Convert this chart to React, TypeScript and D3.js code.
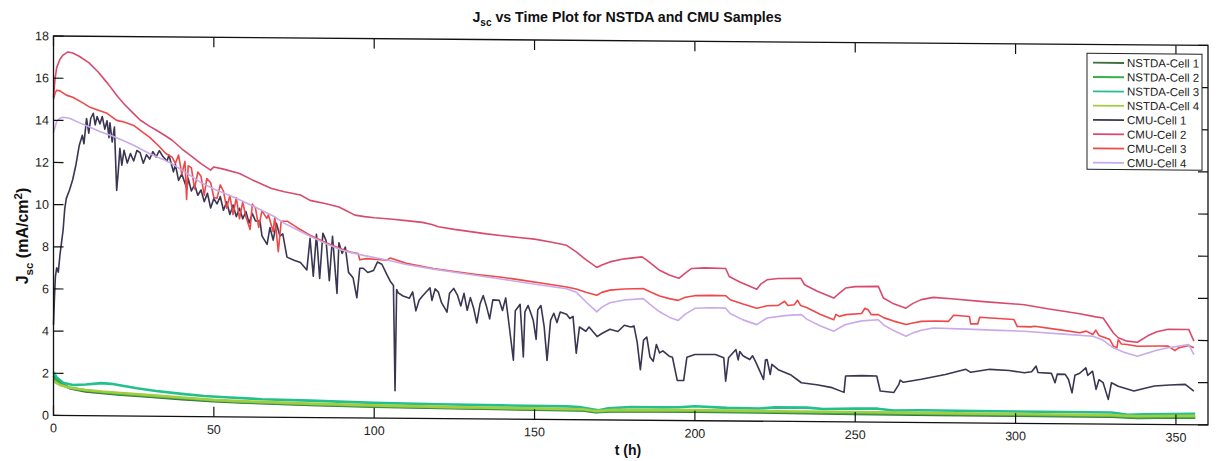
import React from "react";
import * as d3 from "d3";

// ---------- data ----------
const X_TICKS = [0, 50, 100, 150, 200, 250, 300, 350];
const Y_TICKS = [0, 2, 4, 6, 8, 10, 12, 14, 16, 18];

const SERIES_NAMES = [
  "NSTDA-Cell 1", "NSTDA-Cell 2", "NSTDA-Cell 3", "NSTDA-Cell 4",
  "CMU-Cell 1", "CMU-Cell 2", "CMU-Cell 3", "CMU-Cell 4",
];
const SERIES_COLORS = [
  "#3f6f3c", "#36b04e", "#22c08e", "#a3cc3e",
  "#3a3552", "#d84a6e", "#f04848", "#c9aaea",
];

const nstda1 = [[0,1.9],[2,1.55],[5,1.3],[10,1.15],[15,1.08],[20,1.02],[30,0.92],[40,0.82],[50,0.74],[60,0.68],[80,0.6],[100,0.54],[125,0.5],[150,0.46],[165,0.44],[169,0.36],[175,0.42],[200,0.42],[225,0.41],[250,0.38],[275,0.37],[300,0.36],[330,0.35],[338,0.3],[345,0.32],[356,0.33]];
const nstda2 = [[0,1.75],[2,1.5],[5,1.32],[10,1.2],[15,1.12],[20,1.06],[30,0.96],[40,0.86],[50,0.77],[60,0.7],[80,0.62],[100,0.56],[125,0.52],[150,0.48],[165,0.46],[169,0.38],[175,0.44],[200,0.46],[225,0.44],[250,0.42],[275,0.41],[300,0.4],[330,0.38],[338,0.33],[345,0.35],[356,0.36]];
const nstda3 = [[0,2.05],[1,1.8],[3,1.55],[6,1.45],[10,1.48],[15,1.55],[18,1.52],[22,1.42],[26,1.32],[32,1.2],[40,1.07],[47,0.98],[55,0.92],[65,0.85],[80,0.8],[100,0.72],[120,0.68],[140,0.65],[160,0.63],[164,0.6],[168,0.5],[170,0.45],[173,0.55],[180,0.62],[190,0.62],[195,0.63],[200,0.68],[210,0.62],[220,0.6],[225,0.66],[235,0.66],[240,0.6],[250,0.64],[257,0.64],[262,0.56],[270,0.58],[300,0.56],[330,0.55],[335,0.45],[340,0.48],[356,0.52]];
const nstda4 = [[0,1.62],[2,1.45],[5,1.32],[10,1.22],[15,1.15],[20,1.1],[30,1.0],[40,0.9],[50,0.8],[60,0.74],[80,0.66],[100,0.6],[125,0.55],[150,0.52],[165,0.5],[169,0.42],[175,0.48],[200,0.5],[225,0.48],[250,0.47],[275,0.45],[300,0.44],[330,0.42],[338,0.38],[345,0.4],[356,0.42]];

const cmu1 = [[0,4.3],[0.3,5.6],[0.6,6.6],[1,7.0],[1.5,6.8],[2,7.6],[2.5,8.2],[3,8.8],[3.5,9.8],[4,10.3],[5,10.7],[6,11.2],[7,11.9],[8,12.8],[9,13.3],[9.5,12.9],[10.3,14.1],[11,13.4],[11.6,14.1],[12.4,14.35],[13,13.8],[13.6,14.2],[14.5,13.85],[15.2,14.2],[16,13.6],[16.7,14.0],[17.3,13.2],[17.6,13.9],[18.3,13.0],[19,13.7],[19.7,10.7],[20.2,11.6],[20.7,12.7],[21.3,11.9],[22,12.6],[23,12.0],[24,12.45],[25,12.1],[26,12.6],[27,12.5],[28,12.0],[29,12.4],[30,12.2],[31,12.55],[32,12.3],[33,12.6],[34,12.35],[35.4,12.1],[36,12.4],[37.4,11.6],[38,11.95],[39,11.2],[40,11.5],[41.6,10.8],[42,11.3],[43,10.7],[44,11.0],[45,10.5],[46,10.75],[47,10.2],[48,10.6],[49,9.9],[50,10.35],[51,10.1],[52,10.45],[53,9.8],[54,10.2],[55,9.6],[56,10.05],[57,9.5],[58,9.9],[59,9.4],[60,9.75],[61,9.2],[62,9.65],[63,9.3],[64.4,9.3],[65,8.6],[66.6,8.2],[67.5,9.0],[68.5,8.4],[69.5,9.2],[70.6,8.6],[71.5,8.7],[72.8,7.6],[75,7.45],[77,7.35],[79,7.0],[80,8.5],[81,6.7],[82,8.7],[83,6.6],[84,8.75],[85,8.4],[86,6.5],[87,8.6],[88.4,5.9],[89,8.3],[90,7.8],[91,8.1],[92,6.9],[93.4,6.65],[94.6,5.7],[95.5,7.1],[96.6,7.1],[98,6.9],[99.8,7.0],[101,7.4],[102.4,7.3],[104,6.8],[105,6.5],[106,6.3],[106.5,1.3],[107,6.1],[107.5,5.95],[109,5.8],[111,5.7],[112,6.0],[113,5.1],[114,5.6],[115,5.8],[117.4,6.2],[118,5.6],[119,6.15],[120,6.0],[121,5.5],[122.7,5.05],[123.5,5.95],[124.8,6.18],[126,5.85],[127,5.35],[128,5.95],[129,5.15],[130,5.75],[131,5.25],[132,4.55],[133,5.45],[134,5.85],[135,5.35],[136,4.75],[137,5.65],[139,5.63],[140,5.15],[141,5.75],[142,4.55],[143.4,2.8],[144,5.15],[145.5,5.45],[146.5,2.95],[147,5.1],[148,5.4],[149.6,4.7],[150.5,3.8],[151,5.2],[152,5.4],[153,4.4],[153.9,2.8],[155,4.7],[156,5.04],[157,4.6],[158,5.1],[160,5.0],[161,4.8],[162,4.9],[163,3.15],[164,4.4],[166,4.2],[167,4.4],[169.5,3.95],[171,4.1],[173.5,4.3],[176,4.2],[178,4.5],[180,4.42],[181,4.47],[182,3.7],[183,2.4],[184,3.8],[185,3.95],[186,3.0],[187,2.8],[188,3.6],[189,3.2],[190,3.3],[192,3.05],[193,3.0],[194.5,1.9],[196.5,1.9],[197.5,3.0],[200,3.14],[206.4,3.15],[209,3.0],[209.6,1.89],[210.5,3.0],[212.8,3.39],[213.5,2.9],[214,3.3],[215,3.1],[217.1,2.92],[218,3.1],[219,2.8],[221.4,1.98],[222,2.9],[222.5,2.93],[223.5,2.22],[224,2.7],[226,2.45],[230,2.2],[233.2,1.84],[238,1.75],[242.8,1.62],[246.5,1.4],[247,2.18],[252,2.2],[256.7,2.19],[257.8,1.48],[262,1.41],[263.6,1.8],[264,2.0],[265,1.9],[270.6,2.05],[278.1,2.29],[284.5,2.54],[286,2.4],[292,2.55],[298,2.5],[302.7,2.4],[305,2.45],[306.4,2.72],[307,2.42],[311.2,2.38],[312.3,1.94],[313,2.35],[315.5,2.34],[316.5,2.1],[317.6,1.47],[318.5,2.3],[320,2.4],[321.9,2.66],[322.5,2.3],[324,2.5],[325.1,1.64],[326,2.1],[327.3,1.96],[328.9,1.17],[329.9,1.96],[332,1.8],[336.9,1.58],[340,1.7],[343.3,1.82],[348,1.88],[352.9,1.91],[355.6,1.6]];

const cmu2 = [[0,15.1],[0.5,16.0],[1,16.5],[2,16.9],[3,17.1],[4.5,17.25],[6,17.2],[8,17.05],[11,16.75],[14,16.3],[17,15.75],[20,15.15],[22,14.8],[25,14.35],[27,14.05],[30,13.75],[32,13.58],[35,13.3],[37,13.1],[40,12.7],[43,12.35],[46,12.0],[49,11.7],[50,11.85],[53,11.75],[58,11.55],[62,11.25],[65,11.05],[68,10.85],[72,10.7],[77,10.55],[80,10.3],[85,10.15],[89,10.0],[91,9.85],[94,9.62],[97,9.55],[100,9.5],[105,9.45],[110,9.38],[115,9.3],[118,9.2],[120,9.1],[125,8.98],[130,8.88],[135,8.78],[140,8.7],[145,8.62],[150,8.55],[155,8.42],[160,8.27],[163,7.96],[166,7.6],[169.4,7.23],[171,7.35],[173.5,7.5],[178,7.65],[183.5,7.75],[185,7.6],[189,7.12],[192,6.9],[195,6.75],[197,7.0],[199,7.22],[203,7.25],[209.6,7.23],[210.7,6.85],[214,6.6],[219.3,6.26],[220.5,6.5],[222.5,6.71],[226,6.78],[233,6.8],[234.2,6.49],[238,6.2],[243.3,5.87],[245,6.1],[247,6.35],[250,6.42],[257.2,6.44],[258.8,5.89],[262,5.62],[265.8,5.42],[268,5.65],[270.6,5.83],[274.3,5.94],[280,5.88],[290,5.76],[302.7,5.63],[310,5.45],[320,5.22],[325,5.08],[327.3,5.03],[330.5,4.32],[332,4.1],[334.8,3.94],[338,3.89],[341.2,4.2],[344,4.4],[347.6,4.52],[354,4.52],[355.6,3.97]];

const cmu3 = [[0,15.0],[0.5,15.3],[1,15.43],[2,15.4],[4,15.2],[6,15.1],[9,14.85],[11.4,14.63],[14,14.5],[16.7,14.35],[19.7,14.02],[22,13.95],[25,13.79],[28,13.45],[30,13.23],[33,12.8],[35,12.47],[37,12.3],[38,12.0],[39,12.4],[40,11.5],[41,12.1],[41.5,10.3],[42,11.9],[43,11.8],[44,10.8],[45,11.6],[46,11.4],[47,10.5],[47.8,11.3],[49,11.1],[50,10.4],[51,10.37],[52,11.0],[53,10.7],[54,9.9],[55,10.5],[56,9.6],[57,10.4],[58,9.4],[59,10.2],[60,9.5],[61.3,8.9],[62,10.1],[63,9.9],[64,9.0],[65,9.8],[66.5,9.43],[67,9.6],[68.5,8.8],[69,9.5],[70.1,7.85],[71,9.3],[73,9.3],[76,9.0],[80,8.65],[85,8.3],[90,8.0],[93,7.85],[95,7.8],[95.5,7.5],[97.6,7.56],[101,7.52],[104,7.49],[105,7.6],[110,7.35],[118.4,7.11],[125,6.98],[132,6.85],[139.2,6.74],[146,6.6],[153,6.45],[160,6.29],[163,6.2],[166,6.05],[169.4,5.91],[171,6.05],[173.5,6.16],[178,6.22],[183.9,6.25],[186,6.1],[189,5.9],[192,5.78],[194.8,5.7],[197,5.85],[200,5.93],[205,5.95],[209.6,5.94],[211,5.75],[215,5.55],[219.3,5.36],[221,5.42],[222.5,5.48],[226,5.5],[228,5.7],[229,5.5],[231,5.54],[232,5.75],[233,5.5],[235,5.4],[239,5.1],[243.3,4.84],[244,5.1],[245,5.0],[247,5.09],[252,5.15],[253,5.4],[254,5.33],[255,5.1],[257.2,5.1],[259,4.95],[262,4.8],[265.8,4.64],[268,4.72],[270.6,4.8],[275,4.82],[279.1,4.81],[280.7,5.1],[285.6,5.05],[286,4.7],[288.2,4.7],[288.8,5.02],[299.5,4.92],[300.5,4.6],[304.8,4.58],[305.9,4.61],[313.4,4.46],[320,4.32],[322,4.4],[324.1,4.24],[325,4.45],[326,4.2],[329.4,4.01],[330.5,3.7],[331.6,3.62],[332,4.0],[333,3.8],[334.8,3.78],[338,3.7],[345,3.72],[347.6,3.72],[349.7,3.51],[350.8,3.64],[354,3.76],[355.6,3.65]];

const cmu4 = [[0,13.4],[0.5,13.7],[1,13.95],[2,14.1],[3,14.15],[5,14.1],[8,13.9],[11.4,13.68],[15,13.45],[18,13.3],[21.7,13.07],[25,12.85],[30,12.45],[34,12.2],[37,11.98],[42,11.5],[46,11.1],[50,10.8],[55,10.5],[58,10.3],[63,9.95],[68.5,9.55],[72,9.2],[76,8.9],[80,8.6],[85,8.25],[90,7.95],[92.5,7.85],[97,7.7],[104,7.5],[110,7.3],[118,7.1],[125,6.95],[132,6.8],[139,6.66],[146,6.5],[153,6.35],[160,6.21],[163,6.05],[166,5.6],[169.4,5.12],[171,5.35],[173.5,5.56],[178,5.7],[183.9,5.77],[186,5.5],[189,5.15],[192,4.9],[194.8,4.75],[197,5.05],[200,5.33],[205,5.36],[209.6,5.35],[211,5.1],[215,4.8],[219.3,4.58],[221,4.75],[222.5,4.9],[228,5.02],[233.2,5.07],[235,4.85],[239,4.55],[243.3,4.3],[245,4.45],[247,4.62],[252,4.8],[257.2,4.86],[259,4.6],[262,4.35],[265.8,4.09],[268,4.25],[270.6,4.38],[274.3,4.49],[285,4.45],[295,4.4],[302.7,4.37],[315,4.25],[324.1,4.16],[327,4.0],[330.5,3.62],[334,3.4],[338,3.23],[341.2,3.39],[344,3.52],[347.6,3.64],[354,3.8],[355.6,3.33]];

const SERIES = [nstda1, nstda2, nstda3, nstda4, cmu1, cmu2, cmu3, cmu4];

// ---------- chart ----------
const W = 1219;
const H = 461;
const FONT = "'Liberation Sans', Arial, Helvetica, sans-serif";

export default function App() {
  const left = 53.5, right = 1208, top = 36, bottom = 415.4;
  const x = d3.scaleLinear().domain([0, 360]).range([left, right]);
  const y = d3.scaleLinear().domain([0, 18]).range([bottom, top]);
  const line = d3.line<number[]>().x((d) => x(d[0])).y((d) => y(d[1]));

  // the scanned figure is slightly sheared (right side lower)
  const k = 0.0082;
  const deg = (Math.atan(k) * 180) / Math.PI;
  const skew = `translate(0, ${-left * k}) skewY(${deg})`;
  const tickLen = 10;

  const legTop = 44.8, legLeft = 1087, legRight = 1202, legBottom = 160.8;
  const rowH = 14.28;

  return (
    <svg width={W} height={H} style={{ position: "absolute", left: 0, top: 0, background: "#fff" }} fontFamily={FONT}>
      <rect x={0} y={0} width={W} height={H} fill="#fff" />
      {/* title */}
      <text x={627} y={22} textAnchor="middle" fontSize={14.2} fontWeight="bold" fill="#111">
        <tspan>J</tspan>
        <tspan dy={4} fontSize={10}>sc</tspan>
        <tspan dy={-4}> vs Time Plot for NSTDA and CMU Samples</tspan>
      </text>
      {/* x label */}
      <text x={628} y={455} textAnchor="middle" fontSize={14} fontWeight="bold" fill="#111">t (h)</text>
      {/* y label */}
      <text transform="translate(28, 236) rotate(-90)" textAnchor="middle" fontSize={16} fontWeight="bold" fill="#111">
        <tspan>J</tspan>
        <tspan dy={4.5} fontSize={11.5}>sc</tspan>
        <tspan dy={-4.5}> (mA/cm</tspan>
        <tspan dy={-6} fontSize={11.5}>2</tspan>
        <tspan dy={6}>)</tspan>
      </text>

      <g transform={skew}>
        {/* series */}
        {SERIES.map((s, i) => (
          <path
            key={SERIES_NAMES[i]}
            d={line(s) || ""}
            fill="none"
            stroke={SERIES_COLORS[i]}
            strokeWidth={i < 4 ? 2.6 : 1.6}
            strokeLinejoin="round"
          />
        ))}
        {/* frame */}
        <rect x={left} y={top} width={right - left} height={bottom - top} fill="none" stroke="#111" strokeWidth={1.3} />
        {/* x ticks */}
        {X_TICKS.map((t) => (
          <g key={"xt" + t}>
            <line x1={x(t)} x2={x(t)} y1={bottom} y2={bottom - tickLen} stroke="#111" strokeWidth={1.2} />
            <line x1={x(t)} x2={x(t)} y1={top} y2={top + tickLen} stroke="#111" strokeWidth={1.2} />
            <text x={x(t)} y={bottom + 17} textAnchor="middle" fontSize={12.5} fill="#222">{t}</text>
          </g>
        ))}
        {/* y ticks */}
        {Y_TICKS.map((v) => (
          <g key={"yt" + v}>
            <line x1={left} x2={left + tickLen} y1={y(v)} y2={y(v)} stroke="#111" strokeWidth={1.2} />
            <line x1={right} x2={right - tickLen} y1={y(v)} y2={y(v)} stroke="#111" strokeWidth={1.2} />
            <text x={49} y={y(v) + 4.3} textAnchor="end" fontSize={12.5} fill="#222">{v}</text>
          </g>
        ))}
        {/* legend */}
        <rect x={legLeft} y={legTop} width={legRight - legLeft} height={legBottom - legTop} fill="#fff" stroke="#222" strokeWidth={1} />
        {SERIES_NAMES.map((n, i) => {
          const cy = legTop + 9.4 + i * rowH;
          return (
            <g key={"lg" + n}>
              <line x1={legLeft + 6} x2={legLeft + 37} y1={cy} y2={cy} stroke={SERIES_COLORS[i]} strokeWidth={1.8} />
              <text x={legLeft + 40} y={cy + 4} fontSize={11.5} fill="#222">{n}</text>
            </g>
          );
        })}
      </g>
    </svg>
  );
}
